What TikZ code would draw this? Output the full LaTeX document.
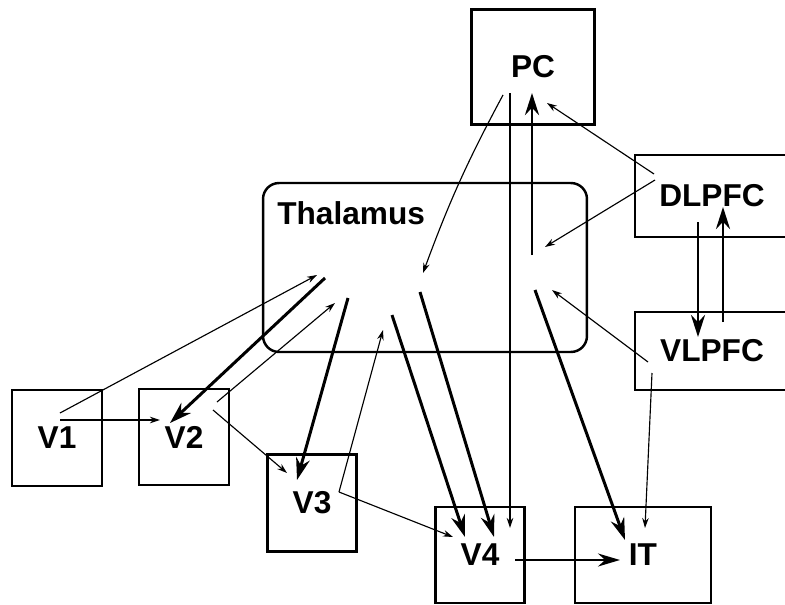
\documentclass[tikz,border=0pt]{standalone}
\usepackage{fontspec}
\setmainfont{Liberation Sans}
\usetikzlibrary{arrows.meta, positioning}
\tikzset{
    % Boxes for the brain areas
    area/.style={
        rectangle,
        draw=black,
        line width=1.4pt,
        inner sep=0pt,
        align=center,
        font=\fontsize{18}{21}\selectfont\bfseries
    },
    thalamus box/.style={
        area,
        rounded corners=0.32cm
    },
    % Connections
    thin arrow/.style={
        -{Stealth[length=0.2cm, width=0.13cm]},
        line width=0.65pt,
        black
    },
    thick arrow/.style={
        -{Stealth[length=0.44cm, width=0.28cm]},
        line width=1.7pt,
        black
    },
    medium arrow/.style={
        -{Stealth[length=0.44cm, width=0.26cm]},
        line width=1.2pt,
        black
    }
}

\begin{document}
\begin{tikzpicture}[x=0.02cm, y=-0.02cm]
        \clip (0,0) rectangle (785,605);

        % Thalamus
        \node[thalamus box, minimum width=6.48cm, minimum height=3.38cm] (thal) at (425,267.5) {};
        \node[font=\fontsize{18}{21}\selectfont\bfseries, inner sep=0pt, anchor=west] (thallabel) at (277,213) {Thalamus};

        % Cortical areas
        \node[area, minimum width=1.8cm, minimum height=1.92cm] (v1) at (57,438) {V1};
        \node[area, minimum width=1.8cm, minimum height=1.92cm] (v2) at (184,437) {V2};
        \node[area, minimum width=1.78cm, minimum height=1.94cm] (v3) at (312,503) {V3};
        \node[area, minimum width=1.78cm, minimum height=1.92cm] (v4) at (480,555) {V4};
        \node[area, minimum width=2.72cm, minimum height=1.92cm] (it) at (643,555) {IT};
        \node[area, minimum width=2.46cm, minimum height=2.3cm] (pc) at (533,67) {PC};
        \node[area, minimum width=3.08cm, minimum height=1.64cm] (dlpfc) at (712,196) {DLPFC};
        \node[area, minimum width=3.08cm, minimum height=1.56cm] (vlpfc) at (712,351) {VLPFC};

        % End points inside the boxes
        \coordinate (v1 up) at (60,413);
        \coordinate (v1 right) at (60,420);
        \coordinate (v2 in) at (170,423);
        \coordinate (v2 from v1) at (160,420);
        \coordinate (v2 up) at (217,402);
        \coordinate (v2 down) at (213,410);
        \coordinate (v3 from v2) at (287,473);
        \coordinate (v3 in) at (297,480);
        \coordinate (v3 out) at (339,492);
        \coordinate (v4 a) at (465,537);
        \coordinate (v4 b) at (494,537);
        \coordinate (v4 from pc) at (510,528);
        \coordinate (v4 from v3) at (453,537);
        \coordinate (v4 right) at (515,560);
        \coordinate (it left) at (620,560);
        \coordinate (it in) at (625,540);
        \coordinate (it from vlpfc) at (645,528);
        \coordinate (pc down a) at (503,95);
        \coordinate (pc down b) at (510,93);
        \coordinate (pc in) at (532,93);
        \coordinate (pc from dlpfc) at (547,103);
        \coordinate (dlpfc up) at (654,174);
        \coordinate (dlpfc left) at (655,180);
        \coordinate (dlpfc down) at (698,222);
        \coordinate (dlpfc in) at (723,207);
        \coordinate (vlpfc up) at (723,322);
        \coordinate (vlpfc in) at (698,337);
        \coordinate (vlpfc left) at (648,362);
        \coordinate (vlpfc down) at (652,373);

        % Points in the thalamus
        \coordinate (th v1) at (317,275);
        \coordinate (th v2 out) at (325,278);
        \coordinate (th v2) at (335,303);
        \coordinate (th v3 out) at (348,298);
        \coordinate (th v3) at (383,330);
        \coordinate (th v4 a) at (392,315);
        \coordinate (th v4 b) at (420,292);
        \coordinate (th pc) at (423,273);
        \coordinate (th pc out) at (532,255);
        \coordinate (th dlpfc) at (545,247);
        \coordinate (th vlpfc) at (552,290);
        \coordinate (th it) at (535,290);

        % Feedforward path
        \draw[thin arrow] (v1 up) -- (th v1);
        \draw[thin arrow] (v1 right) -- (v2 from v1);
        \draw[thin arrow] (v2 up) -- (th v2);
        \draw[thin arrow] (v2 down) -- (v3 from v2);
        \draw[thin arrow] (v3 out) -- (th v3);
        \draw[thin arrow] (v3 out) -- (v4 from v3);
        \draw[medium arrow] (v4 right) -- (it left);

        % Thalamic outputs
        \draw[thick arrow] (th v2 out) -- (v2 in);
        \draw[thick arrow] (th v3 out) -- (v3 in);
        \draw[thick arrow] (th v4 a) -- (v4 a);
        \draw[thick arrow] (th v4 b) -- (v4 b);
        \draw[thick arrow] (th pc out) -- (pc in);
        \draw[thick arrow] (th it) -- (it in);

        % Parietal and prefrontal inputs
        \draw[thin arrow] (pc down a) to[bend right=4] (th pc);
        \draw[thin arrow] (pc down b) -- (v4 from pc);
        \draw[thin arrow] (dlpfc up) -- (pc from dlpfc);
        \draw[thin arrow] (dlpfc left) -- (th dlpfc);
        \draw[thick arrow] (dlpfc down) -- (vlpfc in);
        \draw[thick arrow] (vlpfc up) -- (dlpfc in);
        \draw[thin arrow] (vlpfc left) -- (th vlpfc);
        \draw[thin arrow] (vlpfc down) -- (it from vlpfc);
    \end{tikzpicture}
\end{document}
